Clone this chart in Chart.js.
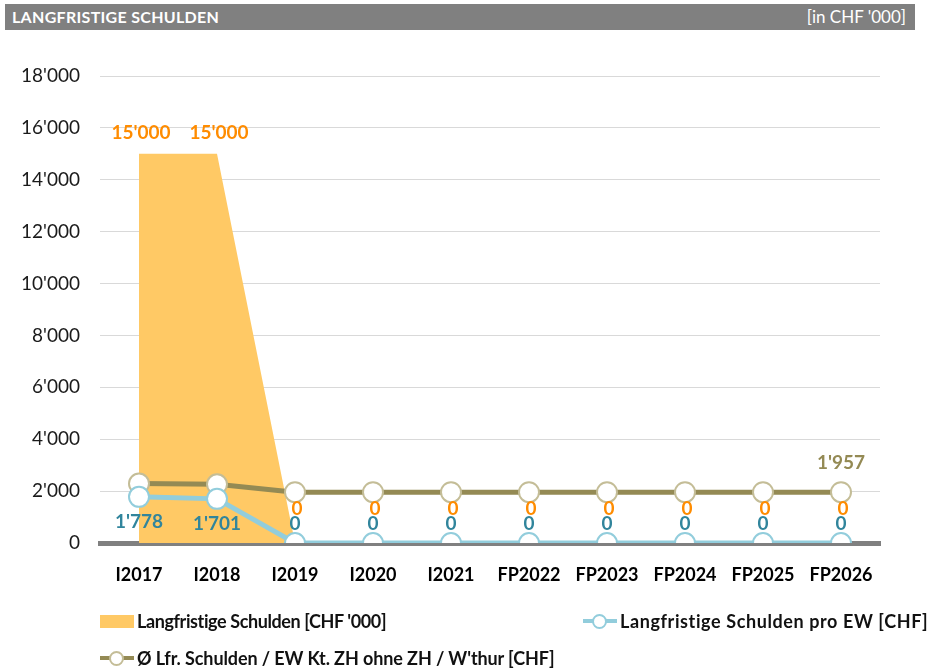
<!DOCTYPE html>
<html>
<head>
<meta charset="utf-8">
<script src="https://cdn.jsdelivr.net/npm/chart.js@4.4.0/dist/chart.umd.min.js"></script>
<style>
  body { margin: 0; background: #fff; font-family: Lato, sans-serif; }
  #wrap { position: relative; width: 933px; height: 672px; overflow: hidden; }
  #head { position: absolute; left: 5px; top: 4px; width: 910px; height: 26px; background: #808080; color: #fff; font-size: 16px; line-height: 26px; }
  #head .t { position: absolute; left: 7px; font-weight: bold; letter-spacing: 0.3px; }
  #head .u { position: absolute; right: 9px; font-size: 17px; }
  canvas { position: absolute; left: 0; top: 0; }
  .leg { position: absolute; font-size: 18px; font-weight: bold; color: #111; display: flex; align-items: center; white-space: nowrap; }
  .sym { position: relative; width: 34px; height: 14px; margin-right: 3px; }
  .box { position: absolute; left: 0; top: 1px; width: 34px; height: 13px; background: #ffc965; }
  .ln { position: absolute; left: 0; top: 5px; width: 34px; height: 4px; }
  .dot { position: absolute; left: 9px; top: 0; width: 11px; height: 11px; border-radius: 50%; background: #fff; border: 2px solid; }
</style>
</head>
<body>
<div id="wrap">
  <canvas id="graph" width="933" height="672"></canvas>
  <div id="head"><span class="t">LANGFRISTIGE SCHULDEN</span><span class="u">[in CHF '000]</span></div>
  <div class="leg" style="left:100px;top:610px;letter-spacing:-0.4px"><div class="sym"><div class="box"></div></div>Langfristige Schulden [CHF '000]</div>
  <div class="leg" style="left:583px;top:610px;letter-spacing:0.6px"><div class="sym"><div class="ln" style="background:#92cddc"></div><div class="dot" style="border-color:#92cddc"></div></div>Langfristige Schulden pro EW [CHF]</div>
  <div class="leg" style="left:100px;top:647px;letter-spacing:-0.1px"><div class="sym"><div class="ln" style="background:#948a54"></div><div class="dot" style="border-color:#c4bd97"></div></div>Ø Lfr. Schulden / EW Kt. ZH ohne ZH / W'thur [CHF]</div>
</div>
<script>
const categories = ['I2017', 'I2018', 'I2019', 'I2020', 'I2021', 'FP2022', 'FP2023', 'FP2024', 'FP2025', 'FP2026'];
const schulden = [15000, 15000, 0, 0, 0, 0, 0, 0, 0, 0];
const schuldenProEW = [1778, 1701, 0, 0, 0, 0, 0, 0, 0, 0];
const avgKanton = [2290, 2260, 1957, 1957, 1957, 1957, 1957, 1957, 1957, 1957];
const yTicks = [0, 2000, 4000, 6000, 8000, 10000, 12000, 14000, 16000, 18000];

function fmt(v) {
  return String(Math.round(v)).replace(/\B(?=(\d{3})+(?!\d))/g, "'");
}

// draws the value labels next to the points
const valueLabels = {
  id: 'valueLabels',
  afterDatasetsDraw(chart) {
    const ctx = chart.ctx;
    ctx.save();
    ctx.font = 'bold 19px Lato';
    ctx.textAlign = 'center';
    ctx.textBaseline = 'middle';
    chart.data.datasets.forEach((ds, i) => {
      const lb = ds.lbl;
      if (!lb) return;
      const meta = chart.getDatasetMeta(i);
      meta.data.forEach((pt, j) => {
        if (lb.only !== undefined && lb.only !== j) return;
        const v = ds.data[j];
        const off = v === 0 ? lb.zeroOff : lb.off;
        ctx.fillStyle = lb.color;
        ctx.fillText(fmt(v), pt.x + (lb.dx || 0), pt.y + off);
      });
    });
    ctx.restore();
  }
};

const ctx = document.getElementById('graph');
new Chart(ctx, {
  type: 'line',
  data: {
    labels: categories,
    datasets: [
      {
        label: "Langfristige Schulden [CHF '000]",
        data: schulden,
        fill: 'origin',
        backgroundColor: '#ffc965',
        borderWidth: 0,
        borderColor: 'rgba(0,0,0,0)',
        pointRadius: 0,
        tension: 0,
        order: 3,
        lbl: { color: '#ff8c00', off: -21, zeroOff: -34, dx: 2 }
      },
      {
        label: 'Ø Lfr. Schulden / EW Kt. ZH ohne ZH / W\'thur [CHF]',
        data: avgKanton,
        borderColor: '#948a54',
        borderWidth: 5,
        pointRadius: 10,
        pointBackgroundColor: '#fff',
        pointBorderColor: '#c4bd97',
        pointBorderWidth: 2,
        tension: 0,
        fill: false,
        order: 2,
        lbl: { color: '#948a54', off: -29, zeroOff: -29, only: 9 }
      },
      {
        label: 'Langfristige Schulden pro EW [CHF]',
        data: schuldenProEW,
        borderColor: '#92cddc',
        borderWidth: 5,
        pointRadius: 10,
        pointBackgroundColor: '#fff',
        pointBorderColor: '#92cddc',
        pointBorderWidth: 2,
        tension: 0,
        fill: false,
        order: 1,
        lbl: { color: '#31859c', off: 25, zeroOff: -19 }
      }
    ]
  },
  options: {
    responsive: false,
    animation: false,
    layout: { padding: { top: 76, left: 0, right: 53, bottom: 0 } },
    plugins: { legend: { display: false }, tooltip: { enabled: false } },
    scales: {
      x: {
        offset: true,
        grid: { display: false },
        border: { color: '#808080', width: 5 },
        ticks: { color: '#000', font: { family: 'Lato', size: 18, weight: 'bold' }, padding: 13 },
        afterFit(s) { s.height = 129; }
      },
      y: {
        min: 0,
        max: 18000,
        afterBuildTicks(s) { s.ticks = yTicks.map(v => ({ value: v })); },
        grid: { color: '#d9d9d9', drawTicks: false },
        border: { display: false },
        ticks: { color: '#1a1a1a', font: { family: 'Lato', size: 19 }, padding: 20, callback: v => fmt(v) },
        afterFit(s) { s.width = 100; }
      }
    }
  },
  plugins: [valueLabels]
});
</script>
</body>
</html>
